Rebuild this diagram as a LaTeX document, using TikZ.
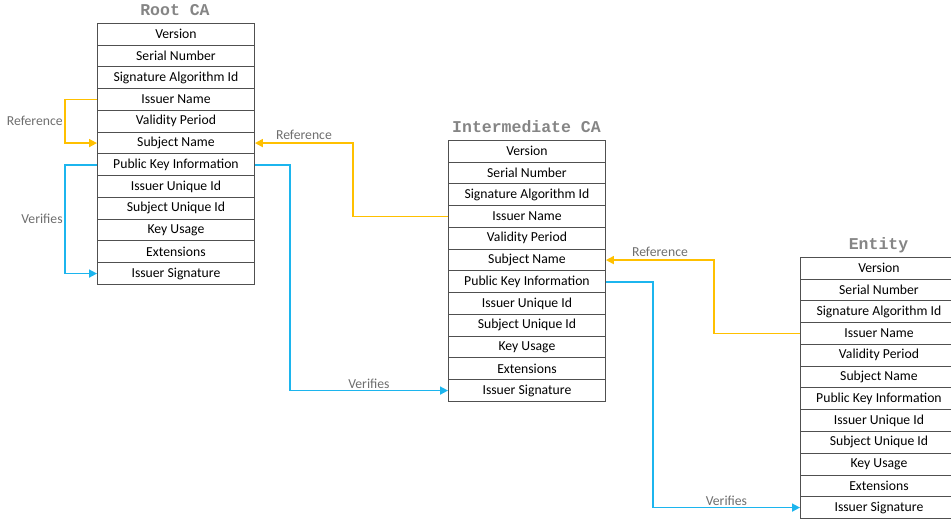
\documentclass[tikz,border=0pt]{standalone}
\usepackage{fontspec}
\setmainfont{Carlito}
\newfontfamily\titlefont{Liberation Mono}
\usetikzlibrary{arrows.meta,positioning}

\definecolor{refgold}{HTML}{FFC000}
\definecolor{verblue}{HTML}{1CB5EE}
\definecolor{labelgray}{HTML}{6E6E6E}
\definecolor{titlegray}{HTML}{858585}
\definecolor{rowline}{HTML}{505050}

\tikzset{
  field/.style={draw=rowline, line width=0.9pt, minimum width=157pt,
    minimum height=21.75pt, inner sep=0pt, anchor=north west,
    font=\fontsize{13.7}{15}\selectfont},
  certtitle/.style={font=\titlefont\bfseries\fontsize{16.5}{18}\selectfont,
    text=titlegray, anchor=base, inner sep=0pt},
  linklabel/.style={font=\fontsize{13.7}{15}\selectfont, text=labelgray, inner sep=1.5pt},
  reflink/.style={draw=refgold, line width=1.7pt, -{Triangle[length=8pt,width=8pt]}},
  verlink/.style={draw=verblue, line width=1.7pt, -{Triangle[length=8pt,width=8pt]}}
}

% #1 name, #2 left x, #3 top y
\newcommand{\certtable}[3]{%
  \foreach \fld [count=\i] in {Version, Serial Number, Signature Algorithm Id,
      Issuer Name, Validity Period, Subject Name, Public Key Information,
      Issuer Unique Id, Subject Unique Id, Key Usage, Extensions, Issuer Signature}
    \node[field] (#1-\i) at (#2, {#3+(\i-1)*21.75}) {\fld};
}

\begin{document}
\begin{tikzpicture}[x=1pt, y=-1pt]
  \useasboundingbox (0,0) rectangle (951,521);

  % certificates
  \certtable{root}{97}{23}
  \certtable{inter}{448}{140}
  \certtable{ent}{800}{257}

  \node[certtitle] (roottitle) at (175,16) {Root CA};
  \node[certtitle] (intertitle) at (526.5,133) {Intermediate CA};
  \node[certtitle] (enttitle) at (878.5,250) {Entity};

  % self signed root
  \draw[reflink] (root-4.west) -- ++(-32,0)
    |- node[pos=0.25, left, linklabel] {Reference} (root-6.west);
  \draw[verlink] (root-7.west) -- ++(-32,0)
    |- node[pos=0.25, left, linklabel] {Verifies} (root-12.west);

  % root -> intermediate
  \draw[reflink] (inter-4.west) -- ++(-95,0)
    |- node[pos=0.75, above=1.5pt, linklabel] {Reference} (root-6.east);
  \draw[verlink] (root-7.east) -- ++(35,0)
    |- node[pos=0.75, above, linklabel] {Verifies} (inter-12.west);

  % intermediate -> entity
  \draw[reflink] (ent-4.west) -- ++(-86,0)
    |- node[pos=0.75, above=1.5pt, linklabel] {Reference} (inter-6.east);
  \draw[verlink] (inter-7.east) -- ++(47,0)
    |- node[pos=0.75, above, linklabel] {Verifies} (ent-12.west);
\end{tikzpicture}
\end{document}
